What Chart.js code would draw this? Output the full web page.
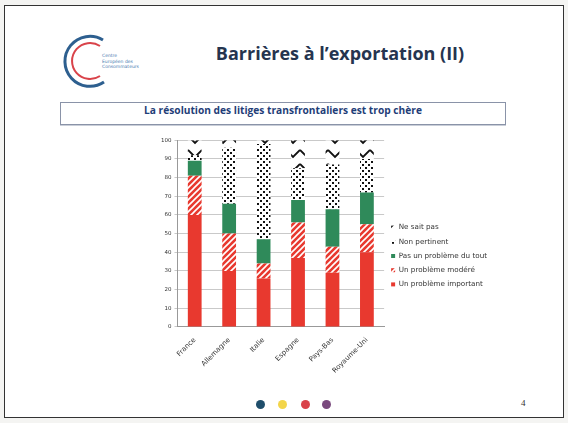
<!DOCTYPE html>
<html>
<head>
<meta charset="utf-8">
<script src="https://cdn.jsdelivr.net/npm/chart.js@4"></script>
<style>
  body { margin: 0; background: #f4f4f2; font-family: "DejaVu Sans", sans-serif; }
  #slide { position: relative; width: 568px; height: 423px; overflow: hidden; }
  #frame { position: absolute; left: 4px; top: 5px; width: 558px; height: 411px; border: 1px solid #333; background: #fff; }
  #title { position: absolute; left: 140px; top: 41px; width: 400px; text-align: center; font: bold 18px "Open Sans", sans-serif; color: #25344f; }
  #subtitle { position: absolute; left: 60px; top: 102px; width: 444px; height: 21px; border: 1px solid #8a93a8; box-shadow: 0 1px 0 #c9ced8;
    text-align: center; line-height: 21px; font: bold 10.2px "Open Sans", sans-serif; color: #1f3e78; }
  #chartbox { position: absolute; left: 146px; top: 134px; width: 364px; height: 242px; }
  .dot { position: absolute; top: 400px; width: 9px; height: 9px; border-radius: 50%; }
  #pagenum { position: absolute; left: 521px; top: 398px; font: 9px "Liberation Serif", serif; color: #333; }
</style>
</head>
<body>
<div id="slide">
  <div id="frame"></div>
  <svg style="position:absolute;left:48px;top:24px" width="100" height="70">
    <path d="M 55 16 A 25 25 0 1 0 56 58" fill="none" stroke="#2d5f8f" stroke-width="3"/>
    <path d="M 52 22 A 18 18 0 1 0 52 52" fill="none" stroke="#d9434a" stroke-width="2"/>
    <text x="54" y="33" font-size="4.5" fill="#4a7cb0">Centre</text>
    <text x="54" y="38.5" font-size="4.5" fill="#4a7cb0">Européen des</text>
    <text x="54" y="44" font-size="4.5" fill="#4a7cb0">Consommateurs</text>
  </svg>
  <div id="title">Barrières à l’exportation (II)</div>
  <div id="subtitle">La résolution des litiges transfrontaliers est trop chère</div>
  <div id="chartbox"><canvas id="myChart"></canvas></div>
  <div class="dot" style="left:256px;background:#1f4e6b"></div>
  <div class="dot" style="left:278px;background:#f3d54a"></div>
  <div class="dot" style="left:301px;background:#d9434a"></div>
  <div class="dot" style="left:322px;background:#7a4a7e"></div>
  <div id="pagenum">4</div>
</div>
<script>
// données (en %)
const pays = ['France', 'Allemagne', 'Italie', 'Espagne', 'Pays-Bas', 'Royaume-Uni'];
const important = [60, 30, 26, 37, 29, 40];
const modere = [21, 20, 8, 19, 14, 15];
const pasDuTout = [8, 16, 13, 12, 20, 17];
const nonPertinent = [3, 30, 51, 17, 24, 18];
const neSaitPas = [8, 4, 2, 15, 13, 10];
const yTicks = [0, 10, 20, 30, 40, 50, 60, 70, 80, 90, 100];

// motifs de remplissage
function makePattern(w, h, draw) {
  const c = document.createElement('canvas');
  c.width = w; c.height = h;
  const g = c.getContext('2d');
  draw(g);
  return g.createPattern(c, 'repeat');
}

const hatch = makePattern(6, 6, g => {
  g.fillStyle = '#e8392f';
  g.fillRect(0, 0, 6, 6);
  g.strokeStyle = '#ffffff';
  g.lineWidth = 1.6;
  g.beginPath();
  g.moveTo(-1, 7); g.lineTo(7, -1);
  g.moveTo(-4, 4); g.lineTo(4, -4);
  g.moveTo(2, 10); g.lineTo(10, 2);
  g.stroke();
});

const dots = makePattern(6, 6, g => {
  g.fillStyle = '#ffffff';
  g.fillRect(0, 0, 6, 6);
  g.fillStyle = '#111';
  g.fillRect(0, 0, 2, 2);
  g.fillRect(3, 3, 2, 2);
});

const zigzag = makePattern(14, 14, g => {
  g.fillStyle = '#ffffff';
  g.fillRect(0, 0, 14, 14);
  g.strokeStyle = '#111';
  g.lineWidth = 1.8;
  g.beginPath();
  g.moveTo(0, 2); g.lineTo(7, 9); g.lineTo(14, 2);
  g.stroke();
});

const ctx = document.getElementById('myChart').getContext('2d');
new Chart(ctx, {
  type: 'bar',
  data: {
    labels: pays,
    datasets: [
      { label: 'Un problème important', data: important, backgroundColor: '#e8392f' },
      { label: 'Un problème modéré', data: modere, backgroundColor: hatch },
      { label: 'Pas un problème du tout', data: pasDuTout, backgroundColor: '#2f8a5a' },
      { label: 'Non pertinent', data: nonPertinent, backgroundColor: dots },
      { label: 'Ne sait pas', data: neSaitPas, backgroundColor: zigzag }
    ]
  },
  options: {
    responsive: true,
    maintainAspectRatio: false,
    animation: false,
    layout: { padding: { left: 12, top: 2, right: 13, bottom: 0 } },
    datasets: { bar: { barPercentage: 0.4, categoryPercentage: 1 } },
    scales: {
      x: {
        stacked: true,
        grid: { display: false },
        border: { color: '#999' },
        ticks: { maxRotation: 45, minRotation: 45, color: '#333', font: { size: 7, family: 'DejaVu Sans' }, padding: 1 }
      },
      y: {
        stacked: true,
        min: 0, max: 100,
        afterBuildTicks: axis => { axis.ticks = yTicks.map(v => ({ value: v })); },
        grid: { color: '#bbbbbb', lineWidth: 0.8, tickLength: 3 },
        border: { color: '#999' },
        ticks: { color: '#333', font: { size: 5.5, family: 'DejaVu Sans' }, padding: 3 }
      }
    },
    plugins: {
      legend: {
        position: 'right',
        reverse: true,
        maxWidth: 130,
        labels: { boxWidth: 4, boxHeight: 4, padding: 7, color: '#333', font: { size: 7.2, family: 'DejaVu Sans' } }
      },
      tooltip: { enabled: false }
    }
  }
});
</script>
</body>
</html>
